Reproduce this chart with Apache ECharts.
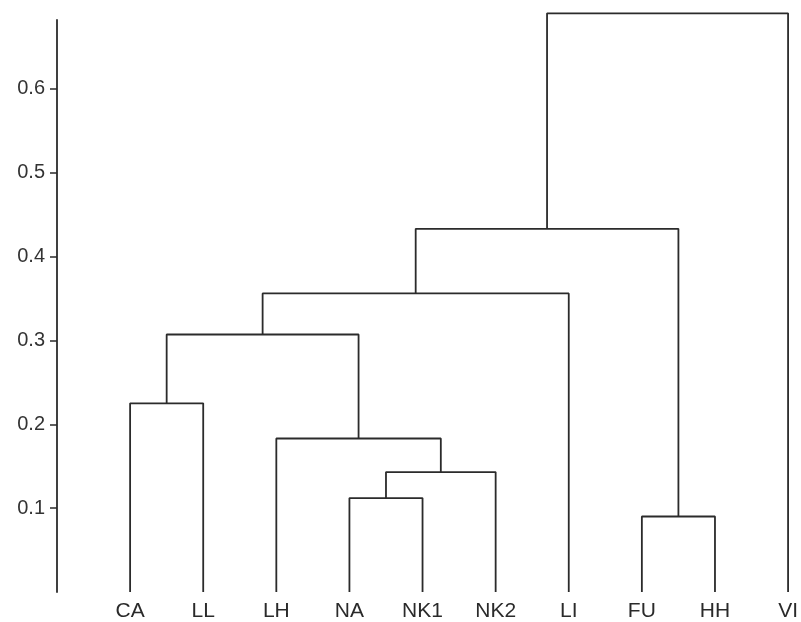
<!DOCTYPE html>
<html>
<head>
<meta charset="utf-8">
<script src="https://cdn.jsdelivr.net/npm/echarts@6/dist/echarts.min.js"></script>
<style>
  html, body { margin: 0; padding: 0; background: #fff; }
  #chart { width: 801px; height: 622px; }
</style>
</head>
<body>
<div id="chart"></div>
<script>
// Leaf labels, left to right
const leaves = ['CA', 'LL', 'LH', 'NA', 'NK1', 'NK2', 'LI', 'FU', 'HH', 'VI'];

// Agglomeration steps: node ids 0..9 are leaves, each merge creates node 10, 11, ...
const mergeLeft   = [3, 10, 2, 0, 13, 14, 7, 15, 17];
const mergeRight  = [4, 5, 11, 1, 12, 6, 8, 16, 9];
const mergeHeight = [0.112, 0.143, 0.183, 0.225, 0.307, 0.356, 0.090, 0.433, 0.690];

// Y axis tick values
const yTicks = [0.1, 0.2, 0.3, 0.4, 0.5, 0.6];

// Node positions: leaves sit at their index and height 0,
// internal nodes at the mean of their children and the merge height.
const nodeX = leaves.map((_, i) => i);
const nodeY = leaves.map(() => 0);
const series = [];
mergeLeft.forEach((l, k) => {
  const r = mergeRight[k];
  const h = mergeHeight[k];
  nodeX.push((nodeX[l] + nodeX[r]) / 2);
  nodeY.push(h);
  series.push({
    type: 'line',
    data: [[nodeX[l], nodeY[l]], [nodeX[l], h], [nodeX[r], h], [nodeX[r], nodeY[r]]],
    showSymbol: false,
    clip: false,
    silent: true,
    lineStyle: { color: '#2b2b2b', width: 1.8 }
  });
});

const chart = echarts.init(document.getElementById('chart'));
chart.setOption({
  animation: false,
  backgroundColor: '#ffffff',
  grid: { left: 57, right: 8, top: 20, bottom: 29, containLabel: false },
  xAxis: {
    type: 'value',
    min: -1,
    max: leaves.length - 1,
    interval: 1,
    axisLine: { show: false },
    axisTick: { show: false },
    splitLine: { show: false },
    axisLabel: {
      margin: 9,
      fontFamily: '"Liberation Sans", Arial, sans-serif',
      fontSize: 21,
      color: '#2a2a2a',
      formatter: v => (v >= 0 && leaves[v] !== undefined ? leaves[v] : '')
    }
  },
  yAxis: {
    type: 'value',
    min: 0,
    max: 0.682,
    axisLine: { show: true, onZero: false, lineStyle: { color: '#2b2b2b', width: 1.8 } },
    axisTick: { show: true, customValues: yTicks, length: 7, lineStyle: { color: '#2b2b2b', width: 1.5 } },
    splitLine: { show: false },
    axisLabel: {
      customValues: yTicks,
      margin: 12,
      fontFamily: '"Liberation Sans", Arial, sans-serif',
      fontSize: 20,
      color: '#333333',
      formatter: v => v.toFixed(1)
    }
  },
  series: series
});
</script>
</body>
</html>
